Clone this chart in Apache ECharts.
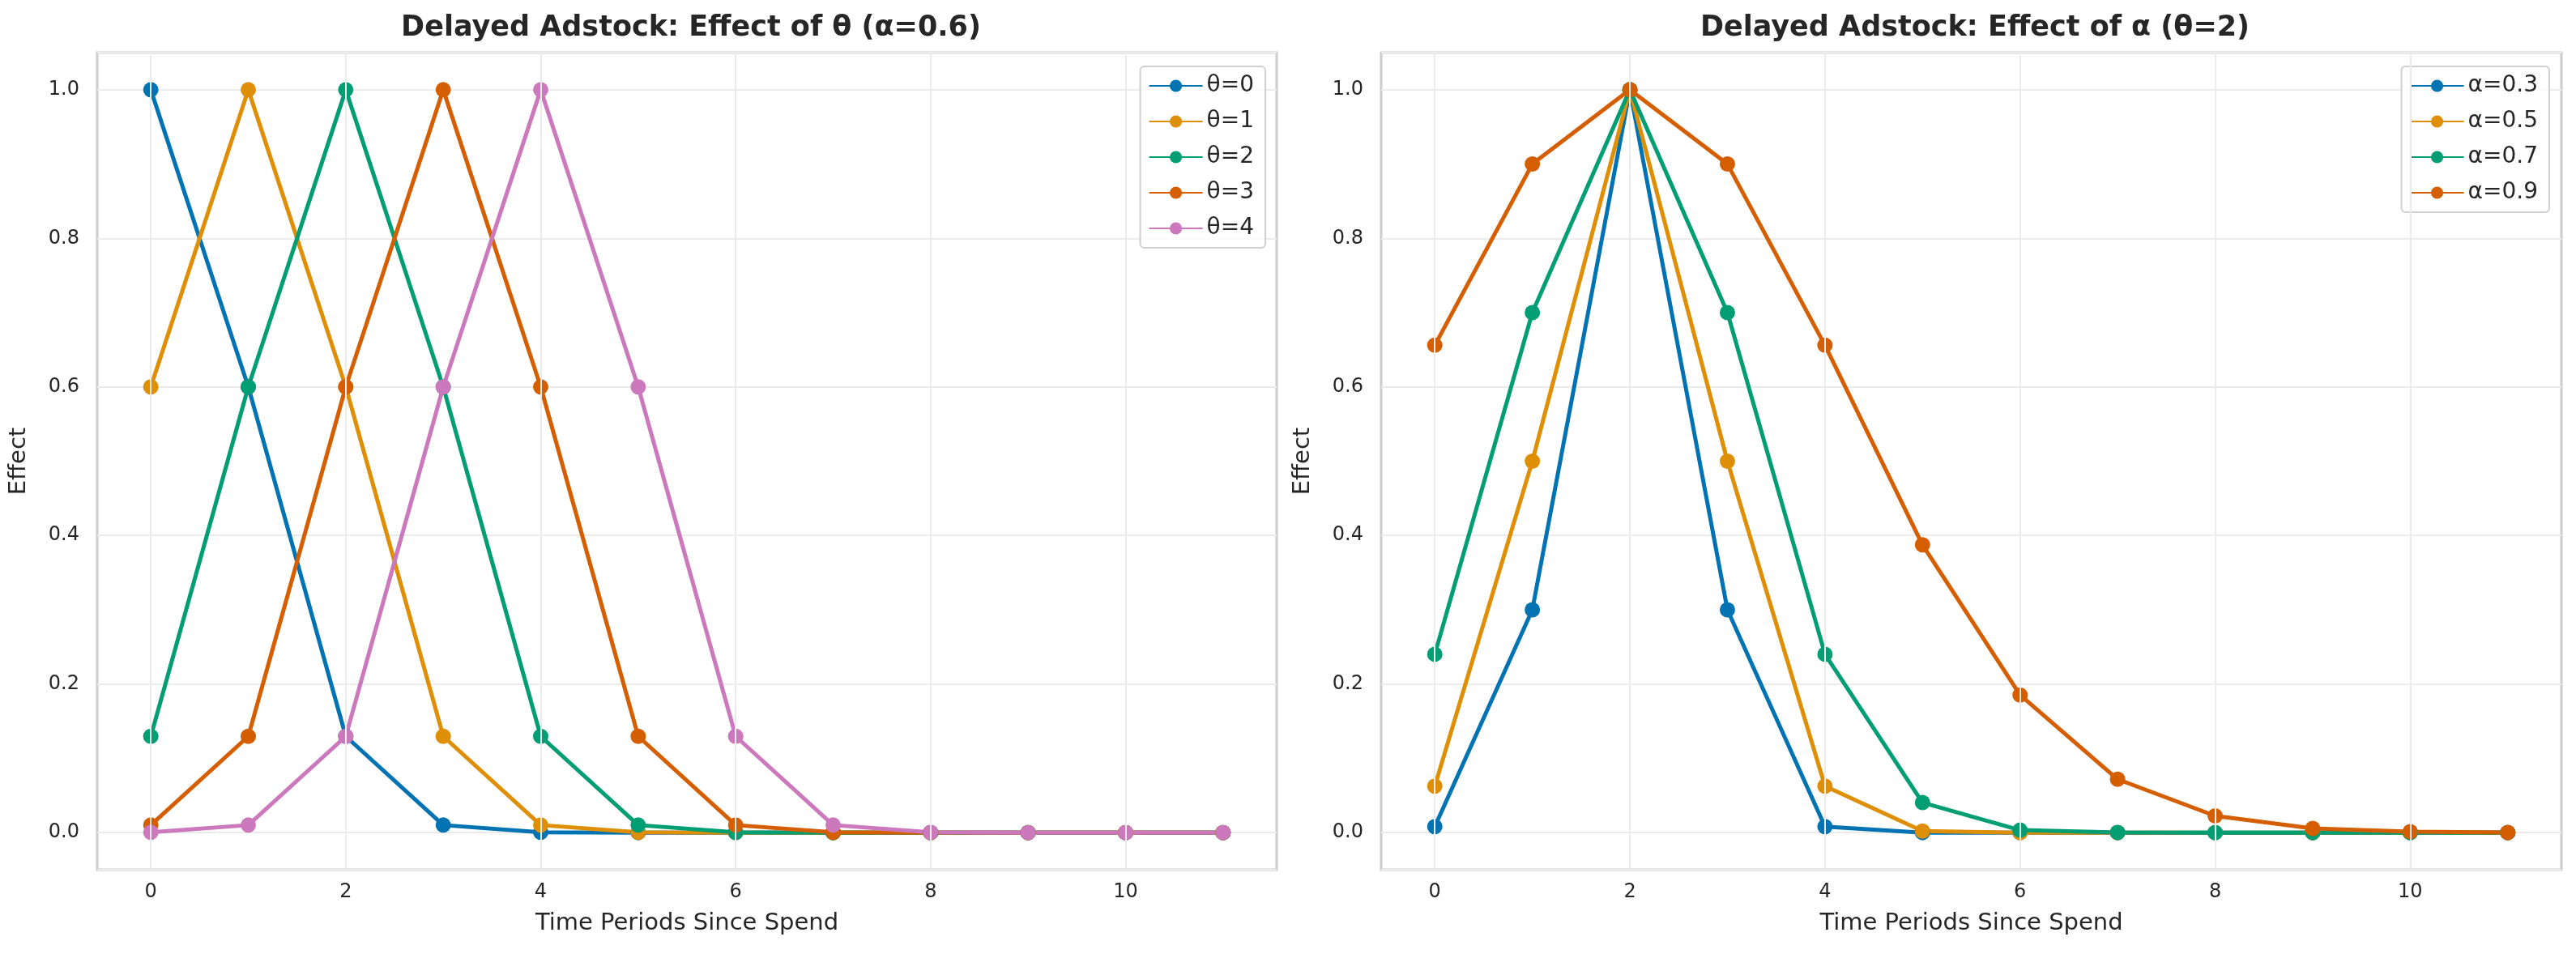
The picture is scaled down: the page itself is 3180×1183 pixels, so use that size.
<!DOCTYPE html><html><head><meta charset="utf-8"><script src="https://cdn.jsdelivr.net/npm/echarts@6/dist/echarts.min.js"></script>
<style>html,body{margin:0;padding:0;background:#fff}#c{width:3180px;height:1183px}</style></head><body><div id="c"></div><script>
const lags=[0,1,2,3,4,5,6,7,8,9,10,11];
const thetaNames=['θ=0','θ=1','θ=2','θ=3','θ=4'];
const thetaVals=[
[1,0.6,0.1296,0.0101,0.0003,0,0,0,0,0,0,0],
[0.6,1,0.6,0.1296,0.0101,0.0003,0,0,0,0,0,0],
[0.1296,0.6,1,0.6,0.1296,0.0101,0.0003,0,0,0,0,0],
[0.0101,0.1296,0.6,1,0.6,0.1296,0.0101,0.0003,0,0,0,0],
[0.0003,0.0101,0.1296,0.6,1,0.6,0.1296,0.0101,0.0003,0,0,0]];
const alphaNames=['α=0.3','α=0.5','α=0.7','α=0.9'];
const alphaVals=[
[0.0081,0.3,1,0.3,0.0081,0,0,0,0,0,0,0],
[0.0625,0.5,1,0.5,0.0625,0.002,0,0,0,0,0,0],
[0.2401,0.7,1,0.7,0.2401,0.0404,0.0033,0.0001,0,0,0,0],
[0.6561,0.9,1,0.9,0.6561,0.3874,0.1853,0.0718,0.0225,0.0057,0.0012,0.0002]];
const colors=['#0173b2','#de8f05','#029e73','#d55e00','#cc78bc'];
const ch=echarts.init(document.getElementById('c'));
const font='DejaVu Sans';
function xa(i){return {type:'value',gridIndex:i,min:-0.55,max:11.55,
 axisLabel:{fontSize:24,color:'#262626',fontFamily:font,margin:16,customValues:[0,2,4,6,8,10]},
 axisLine:{show:false},axisTick:{show:false},splitLine:{show:false},
 name:'Time Periods Since Spend',nameLocation:'middle',nameGap:52,nameTextStyle:{fontSize:29,color:'#262626',fontFamily:font}};}
function ya(i){return {type:'value',gridIndex:i,min:-0.05,max:1.05,
 axisLabel:{fontSize:24,color:'#262626',fontFamily:font,margin:22,customValues:[0,0.2,0.4,0.6,0.8,1.0],formatter:v=>v.toFixed(1)},
 axisTick:{show:false},axisLine:{show:false},
 splitLine:{show:true,lineStyle:{color:'#ebebeb',width:2}},
 name:'Effect',nameLocation:'middle',nameGap:82,nameTextStyle:{fontSize:29,color:'#262626',fontFamily:font}};}
const series=[];
thetaNames.forEach((n,k)=>series.push({name:n,type:'line',xAxisIndex:0,yAxisIndex:0,data:lags.map((l,j)=>[l,thetaVals[k][j]]),
 symbol:'circle',symbolSize:19,lineStyle:{width:5,color:colors[k]},itemStyle:{color:colors[k]},color:colors[k]}));
alphaNames.forEach((n,k)=>series.push({name:n,type:'line',xAxisIndex:1,yAxisIndex:1,data:lags.map((l,j)=>[l,alphaVals[k][j]]),
 symbol:'circle',symbolSize:19,lineStyle:{width:5,color:colors[k]},itemStyle:{color:colors[k]},color:colors[k]}));
const vlines=[0,2,4,6,8,10];
function legend(names,right){return {data:names,orient:'vertical',right:right,top:82,itemWidth:66,itemHeight:19,itemGap:16,
 textStyle:{fontSize:28,color:'#262626',fontFamily:font},backgroundColor:'rgba(255,255,255,0.8)',borderColor:'#d0d0d0',borderWidth:2,borderRadius:5,padding:[10,14,10,10]};}
ch.setOption({animation:false,
 title:[{text:'Delayed Adstock: Effect of θ (α=0.6)',left:848,top:12,textAlign:'center',textStyle:{fontSize:35,fontWeight:'bold',color:'#262626',fontFamily:font}},
        {text:'Delayed Adstock: Effect of α (θ=2)',left:2433,top:12,textAlign:'center',textStyle:{fontSize:35,fontWeight:'bold',color:'#262626',fontFamily:font}}],
 grid:[{left:120,top:65,width:1456,height:1009,show:true,borderColor:'#cccccc',borderWidth:3},
       {left:1705,top:65,width:1457,height:1009,show:true,borderColor:'#cccccc',borderWidth:3}],
 xAxis:[xa(0),xa(1)],
 yAxis:[ya(0),ya(1)],
 legend:[legend(thetaNames,3180-1562),legend(alphaNames,3180-3147)],
 series:series.concat([0,1].map(g=>({type:'line',xAxisIndex:g,yAxisIndex:g,data:[],silent:true,z:0,
   markLine:{silent:true,symbol:'none',label:{show:false},lineStyle:{color:'#ebebeb',width:2,type:'solid'},data:vlines.map(v=>({xAxis:v}))}})))
});
</script></body></html>
